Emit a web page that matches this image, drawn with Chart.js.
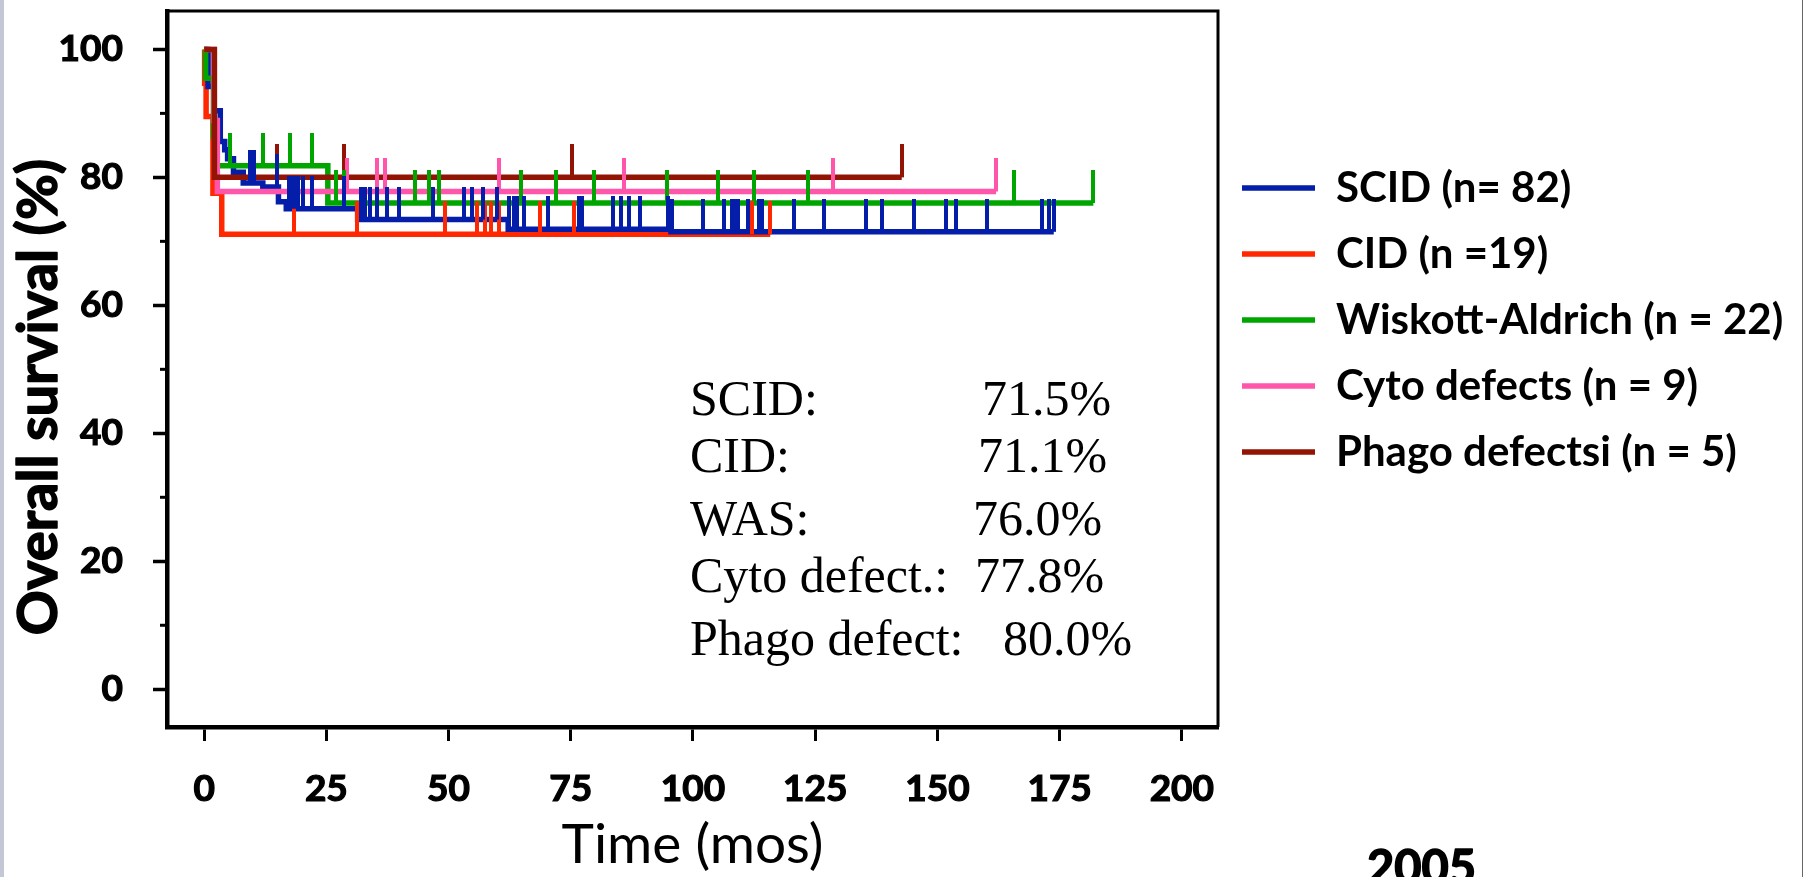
<!DOCTYPE html>
<html>
<head>
<meta charset="utf-8">
<script src="https://cdn.jsdelivr.net/npm/chart.js@4.4.0/dist/chart.umd.min.js"></script>
<style>
    html, body { margin: 0; padding: 0; background: #fff; }
    #wrap { position: relative; width: 1805px; height: 877px; overflow: hidden; }
    #edge-left { position: absolute; left: 0; top: 0; width: 4px; height: 877px; background: #c3c8d4; }
    #edge-right { position: absolute; left: 1802px; top: 0; width: 1px; height: 877px; background: #666; }
</style>
</head>
<body>
<div id="wrap">
    <canvas id="survival-chart" width="1805" height="877"></canvas>
    <div id="edge-left"></div>
    <div id="edge-right"></div>
</div>
<script>
// legend / series names
const seriesLabels = ['SCID (n= 82)', 'CID (n =19)', 'Wiskott-Aldrich (n = 22)', 'Cyto defects (n = 9)', 'Phago defectsi (n = 5)'];

// Kaplan-Meier steps (months, % surviving from that month on)
const scidTimes = [0, 0.8, 2.0, 3.3, 4.2, 4.8, 6.0, 8.0, 12.0, 15.2, 16.8, 31.4, 62.2, 95.5, 173.8];
const scidSurvival = [100, 94.2, 90.4, 85.6, 84.3, 82.9, 80.8, 79.1, 78.5, 76.2, 75.1, 73.4, 71.9, 71.5, 71.5];
const scidCensored = [9.4, 10.1, 15.0, 17.4, 17.9, 18.8, 19.3, 20.2, 22.0, 28.7, 32.0, 32.9, 33.9, 35.4, 37.5, 39.9,
    46.8, 53.2, 54.7, 57.0, 59.9, 62.4, 63.3, 63.9, 65.4, 70.3, 76.6, 77.2, 83.7, 85.3, 87.0, 89.2, 94.8, 95.8,
    102.0, 106.4, 108.0, 108.6, 109.2, 111.3, 113.5, 114.2, 120.7, 126.9, 135.4, 138.7, 145.2, 151.8, 153.8,
    160.2, 171.4, 172.8, 173.8];

const cidTimes = [0, 0.1, 0.4, 1.8, 3.6, 115.8];
const cidSurvival = [100, 94.7, 89.5, 77.5, 71.1, 71.1];
const cidCensored = [18.4, 31.2, 49.3, 55.9, 57.5, 58.7, 60.3, 68.7, 75.6, 112.1, 115.8];

const wasTimes = [0, 0.3, 1.9, 2.5, 25.3, 181.9];
const wasSurvival = [100, 95.5, 86.4, 81.8, 76.0, 76.0];
const wasCensored = [5.3, 12.1, 17.6, 22.0, 27.0, 28.6, 43.1, 45.9, 48.1, 64.8, 72.0, 79.8, 94.7, 105.2, 112.4,
    123.6, 165.7, 181.9];

const cytoTimes = [0, 2.0, 2.7, 162.0];
const cytoSurvival = [100, 88.9, 77.8, 77.8];
const cytoCensored = [29.2, 35.3, 37.0, 60.3, 85.8, 128.6, 162.0];

const phagoTimes = [0, 2.1, 142.7];
const phagoSurvival = [100, 80.0, 80.0];
const phagoCensored = [14.9, 28.6, 75.3, 142.7];

const xTicks = [0, 25, 50, 75, 100, 125, 150, 175, 200];
const yTicks = [0, 20, 40, 60, 80, 100];
const yMinorTicks = [10, 30, 50, 70, 90];

const yTitle = 'Overall survival (%)';
const statLabels = ['SCID:', 'CID:', 'WAS:', 'Cyto defect.:', 'Phago defect:'];
const statValues = ['71.5%', '71.1%', '76.0%', '77.8%', '80.0%'];
const yearLabel = '2005';

const series = [
    {label: seriesLabels[0], color: 'rgb(5,30,170)', times: scidTimes, values: scidSurvival, censored: scidCensored, order: 4},
    {label: seriesLabels[1], color: 'rgb(255,40,0)', times: cidTimes, values: cidSurvival, censored: cidCensored, order: 5},
    {label: seriesLabels[2], color: 'rgb(0,165,0)', times: wasTimes, values: wasSurvival, censored: wasCensored, order: 3},
    {label: seriesLabels[3], color: 'rgb(255,85,170)', times: cytoTimes, values: cytoSurvival, censored: cytoCensored, order: 2},
    {label: seriesLabels[4], color: 'rgb(145,20,5)', times: phagoTimes, values: phagoSurvival, censored: phagoCensored, order: 1},
];

function survivalAt(times, values, t) {
    let v = values[0];
    times.forEach((time, i) => {
        if (time <= t)
            v = values[i];
    });
    return v;
}

// censor mark: a short upward stroke, the image is centred on the point
function censorMark(color) {
    const c = document.createElement('canvas');
    c.width = 4;
    c.height = 66;
    const g = c.getContext('2d');
    g.fillStyle = color;
    g.fillRect(0, 0, 4, 33);
    return c;
}

Chart.defaults.font.family = 'Lato';
Chart.defaults.color = '#000';

const legendFont = {size: 42, weight: 'bold', lineHeight: 1};
const measure = document.createElement('canvas').getContext('2d');
measure.font = 'bold 42px Lato';
const legendTextWidth = Math.max(...seriesLabels.map(l => measure.measureText(l).width));
// legend width = padding + line + gap + text + 10, plot should end near x = 1218
const legendWidth = 24 + 73 + 21 + legendTextWidth + 10;
const rightPad = Math.max(0, 1805 - 1218 - legendWidth);

const lineSets = series.map(s => ({
    type: 'line',
    label: s.label,
    data: s.times.map((t, i) => ({x: t, y: s.values[i]})),
    borderColor: s.color,
    backgroundColor: s.color,
    borderWidth: 5.5,
    borderCapStyle: 'butt',
    borderJoinStyle: 'miter',
    stepped: 'before',
    pointRadius: 0,
    fill: false,
    order: s.order
}));

const tickSets = series.map(s => ({
    type: 'line',
    label: s.label + ' censored',
    data: s.censored.map(t => ({x: t, y: survivalAt(s.times, s.values, t)})),
    showLine: false,
    pointStyle: censorMark(s.color),
    pointRadius: 2,
    order: 0
}));

const extras = {
    id: 'extras',
    afterDraw(chart) {
        const {ctx, chartArea, scales: {y}} = chart;
        ctx.save();
        ctx.strokeStyle = '#000';
        ctx.lineWidth = 3;
        ctx.beginPath();
        ctx.moveTo(chartArea.left, chartArea.top);
        ctx.lineTo(chartArea.right, chartArea.top);
        ctx.lineTo(chartArea.right, chartArea.bottom);
        ctx.stroke();

        yMinorTicks.forEach(v => {
            const py = y.getPixelForValue(v);
            ctx.beginPath();
            ctx.moveTo(chartArea.left - 7, py);
            ctx.lineTo(chartArea.left, py);
            ctx.stroke();
        });

        ctx.fillStyle = '#000';
        ctx.lineWidth = 1.5;
        ctx.lineJoin = 'round';

        // axis title, sits a little below the middle of the axis
        ctx.save();
        ctx.translate(39, 397);
        ctx.rotate(-Math.PI / 2);
        ctx.textAlign = 'center';
        ctx.textBaseline = 'middle';
        ctx.font = 'bold 56px Lato';
        ctx.fillText(yTitle, 0, 0);
        ctx.strokeText(yTitle, 0, 0);
        ctx.restore();

        const baselines = [415, 472, 535, 592, 655];
        const valueX = [982, 978, 973, 975, 1003];
        ctx.textBaseline = 'alphabetic';
        ctx.textAlign = 'left';
        ctx.font = '50px "Liberation Serif"';
        statLabels.forEach((label, i) => {
            ctx.fillText(label, 690, baselines[i]);
            ctx.fillText(statValues[i], valueX[i], baselines[i]);
        });

        ctx.font = 'bold 47px Lato';
        ctx.fillText(yearLabel, 1367, 884);
        ctx.strokeText(yearLabel, 1367, 884);
        ctx.restore();
    }
};

new Chart(document.getElementById('survival-chart'), {
    type: 'line',
    data: {datasets: [...lineSets, ...tickSets]},
    plugins: [extras],
    options: {
        responsive: false,
        animation: false,
        devicePixelRatio: 1,
        events: [],
        layout: {padding: {top: 11, left: 0, bottom: 0, right: rightPad}},
        plugins: {
            tooltip: {enabled: false},
            legend: {
                position: 'right',
                align: 'start',
                maxWidth: Math.ceil(legendWidth) + 2,
                title: {display: true, text: '', font: {size: 1, lineHeight: 1}, padding: {top: 131, bottom: 0}},
                labels: {
                    boxWidth: 73,
                    boxHeight: 0,
                    padding: 24,
                    color: '#000',
                    font: legendFont,
                    filter: item => item.datasetIndex < series.length,
                    sort: (a, b) => a.datasetIndex - b.datasetIndex
                }
            }
        },
        scales: {
            x: {
                type: 'linear',
                min: -7.6,
                max: 207.4,
                afterBuildTicks: scale => {
                    scale.ticks = xTicks.map(v => ({value: v}));
                },
                afterFit: scale => {
                    scale.height = 150;
                    scale.paddingLeft = 0;
                    scale.paddingRight = 0;
                },
                grid: {drawOnChartArea: false, tickLength: 14, tickWidth: 3, tickColor: '#000'},
                border: {color: '#000', width: 4.5},
                ticks: {
                    padding: 30,
                    autoSkip: false,
                    maxRotation: 0,
                    textStrokeColor: '#000',
                    textStrokeWidth: 1.2,
                    font: {size: 37, weight: 'bold', lineHeight: 1}
                },
                title: {
                    display: true,
                    text: 'Time (mos)',
                    font: {size: 55, lineHeight: 1},
                    padding: {top: 0, bottom: 4}
                }
            },
            y: {
                type: 'linear',
                min: -5.9,
                max: 106,
                afterBuildTicks: scale => {
                    scale.ticks = yTicks.map(v => ({value: v}));
                },
                afterFit: scale => {
                    scale.width = 167;
                    scale.paddingTop = 0;
                    scale.paddingBottom = 0;
                },
                grid: {drawOnChartArea: false, tickLength: 14, tickWidth: 3.5, tickColor: '#000'},
                border: {color: '#000', width: 4.5},
                ticks: {
                    padding: 30,
                    crossAlign: 'near',
                    textStrokeColor: '#000',
                    textStrokeWidth: 1.2,
                    font: {size: 37, weight: 'bold', lineHeight: 1}
                },
                title: {display: false}
            }
        }
    }
});
</script>
</body>
</html>
